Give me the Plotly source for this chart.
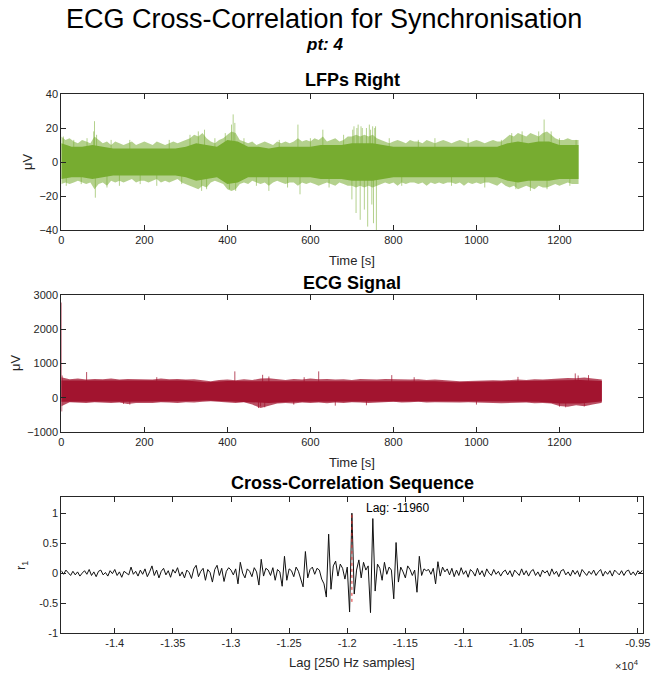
import numpy as np
import plotly.graph_objects as go

# ---------------- LFP (Right) data ----------------
# outer (light) envelope, every 10 s
lfp_outer_t = list(range(0, 1241, 10)) + [1246]
lfp_outer_hi = [15, 13, 14,
                12, 11, 13, 12, 11,
                15, 13,
                11, 12, 10, 12, 11, 10, 11, 12, 10, 11, 12, 11, 10, 12, 11, 10, 11, 12, 11, 12,
                13, 14, 16, 15, 17, 14,
                12, 11, 13, 14,
                16, 18, 17, 13,
                12, 11, 12, 10, 11, 12, 11, 10, 12, 11, 12, 11, 12,
                14, 12, 13, 12, 14, 13, 15, 12, 13, 14, 12, 13, 15,
                15, 16, 15, 16, 15, 16, 14,
                13, 12, 11, 12, 13, 12, 11, 13, 12, 12, 11, 13, 12, 11, 12, 13, 12, 11, 12, 13,
                12, 11, 12, 13, 12, 11, 12, 13, 12, 12,
                14, 16, 15, 17, 16, 15, 17, 16, 15, 17, 18, 16,
                14, 13, 13, 14, 13, 13,
                13]
lfp_outer_lo = [-13, -12, -13,
                -12, -11, -12, -13, -12,
                -16, -13,
                -12, -14, -11, -12, -11, -12, -11, -10, -12, -11, -11, -12, -11, -10, -12, -11,
                -12, -11, -10, -12,
                -13, -14, -15, -16, -14, -15,
                -12, -11, -12, -13,
                -16, -17, -16, -13,
                -12, -13, -11, -12, -13, -12, -14, -12, -11, -12, -13, -12, -12,
                -14, -12, -13, -12, -13, -14, -13, -12, -13, -14, -12, -13, -14,
                -14, -15, -14, -15, -14, -15, -14,
                -13, -12, -13, -12, -14, -12, -13, -12, -12, -13, -12, -14, -12, -13, -12, -13,
                -12, -12, -13, -12, -14, -12, -13, -12, -13, -12, -12, -13, -14, -12,
                -14, -15, -14, -16, -15, -14, -15, -16, -14, -15, -15, -14,
                -13, -14, -13, -12, -13, -13,
                -13]
# dense (solid) core, every 25 s
lfp_core_t = [0, 25, 50, 75, 100, 125, 150, 175, 200, 225, 250, 275, 300, 325, 350, 375,
              400, 425, 450, 475, 500, 525, 550, 575, 600, 625, 650, 675, 700, 725, 750, 775,
              800, 825, 850, 875, 900, 925, 950, 975, 1000, 1025, 1050, 1075, 1100, 1125,
              1150, 1175, 1200, 1225, 1246]
lfp_core_hi = [11, 9, 9, 10, 9, 8, 8, 8, 8, 8, 8, 8, 9, 11, 10, 9, 13, 12, 9, 9, 8, 9, 9, 9,
               9, 10, 10, 10, 11, 11, 11, 10, 9, 9, 9, 9, 9, 9, 9, 9, 9, 9, 9, 11, 12, 11,
               12, 12, 10, 10, 10]
lfp_core_lo = [-10, -9, -9, -10, -9, -8, -8, -8, -8, -8, -8, -8, -9, -11, -10, -9, -13, -12,
               -9, -9, -9, -9, -9, -9, -9, -10, -10, -10, -11, -11, -11, -10, -9, -9, -9,
               -9, -9, -9, -9, -9, -9, -9, -9, -11, -12, -11, -11, -11, -10, -10, -10]
# isolated spikes
lfp_spike_t = [5, 12, 30, 48, 62, 78, 80, 82, 85, 110, 120, 140, 165, 190, 230, 260, 290,
               310, 330, 338, 345, 350, 370, 395, 405, 410, 414, 418, 420, 440, 470, 500,
               525, 545, 570, 575, 600, 630, 645, 680,
               700, 702, 705, 710, 712, 715, 720, 722, 725, 730, 735, 738, 742, 745, 748,
               750, 752, 755, 757, 759,
               790, 820, 860, 900, 940, 980, 1020, 1060,
               1085, 1095, 1110, 1130, 1150, 1163, 1170, 1180, 1200, 1225, 1240]
lfp_spike_v = [15, -14, 13, -13, 14, 18, 24, -21, 16, -15, 13, -14, 13, -13, -14, 13, -13,
               16, 18, -17, 19, -16, 14, 17, -16, 22, 28, 23, -17, 14, -14, -17,
               13, -15, 22, -19, 14, 19, -15, 16,
               -22, 19, 21, -30, 20, 22, -34, 21, 20, -28, 20, -38, 22, 19, -25,
               21, -36, 20, 21, -40,
               14, -14, 13, 14, -14, 14, -15, 13,
               17, -16, 18, -17, 18, 25, -16, 18, 14, -14, 13]

# ---------------- ECG data ----------------
ecg_outer_t = list(range(0, 1301, 20)) + [1302]
ecg_outer_hi = [600, 540, 560, 530, 550, 540, 560, 530, 550, 540,
                550, 530, 560, 540, 550, 530, 540, 520, 480, 520,
                530, 510, 540, 520, 560, 570, 540, 520, 550, 530,
                560, 540, 550, 530, 540, 520, 550, 540, 530, 550,
                540, 550, 530, 540, 520, 530, 510, 490, 480, 490,
                500, 490, 510, 500, 520, 530, 520, 540, 530, 550,
                560, 580, 570, 590, 560, 540,
                530]
ecg_outer_lo = [-250, -130, -140, -150, -130, -140, -150, -140, -180, -150,
                -140, -150, -130, -140, -150, -130, -140, -120, -100, -130,
                -140, -150, -130, -200, -300, -240, -170, -150, -170, -140,
                -150, -140, -160, -140, -150, -130, -140, -150, -160, -130,
                -120, -140, -130, -120, -140, -130, -120, -130, -140, -130,
                -150, -140, -150, -160, -140, -150, -140, -160, -150, -170,
                -240, -260, -220, -250, -200, -150,
                -140]
ecg_core_t = [0, 50, 100, 150, 200, 250, 300, 350, 400, 450, 500, 550, 600, 650, 700, 750,
              800, 850, 900, 950, 1000, 1050, 1100, 1150, 1200, 1250, 1300, 1302]
ecg_core_hi = [500, 500, 500, 500, 500, 500, 500, 450, 490, 480, 480, 490, 500, 500, 490,
               500, 500, 490, 480, 450, 460, 470, 480, 490, 500, 520, 490, 490]
ecg_core_lo = [-120, -110, -110, -120, -110, -110, -100, -80, -100, -120, -150, -120, -120,
               -120, -100, -110, -100, -100, -100, -100, -110, -110, -110, -120, -170, -170,
               -110, -110]
ecg_spike_t = [0, 1, 2, 61, 150, 165, 230, 418, 475, 480, 485, 490, 500, 560, 585, 620,
               660, 735, 796, 850, 1000, 1100, 1200, 1215, 1238, 1245, 1260, 1270]
ecg_spike_v = [2780, -400, 650, 750, -180, -200, 600, 770, -300, -250, 670, -280, 620, -200,
               600, 770, -230, -220, 660, 600, -200, 610, -260, -280, 710, 650, -250, 660]

# ---------------- Cross-correlation sequence ----------------
lag_start = -14460
lag_step = 20
xc_r = [0.04, -0.02, 0.05, 0.01, -0.04, 0.03, -0.03, 0.02, -0.05, 0.00,
        0.04, -0.02, 0.06, -0.04, 0.02, -0.06, 0.03, 0.05, -0.03, 0.01,
        -0.05, 0.04, -0.01, 0.06, -0.04, 0.02, -0.07, 0.03, 0.00, -0.03,
        0.10, -0.02, 0.03, -0.05, 0.05, -0.02, 0.07, -0.06, 0.02, 0.12,
        -0.04, 0.05, -0.08, 0.03, 0.08, -0.03, 0.04, -0.07, 0.06, 0.00,
        0.09, -0.05, 0.02, -0.08, 0.05, 0.01, -0.09, 0.07, 0.13, -0.06,
        0.03, 0.08, -0.12, 0.06, 0.01, -0.15, 0.06, 0.13, -0.04, 0.08,
        -0.14, 0.03, 0.09, 0.05, -0.03, 0.07, -0.18, 0.18, 0.00, -0.08,
        0.07, 0.03, -0.06, 0.09, 0.02, -0.20, 0.23, -0.05, 0.08, 0.05,
        -0.04, 0.09, -0.12, 0.06, 0.02, -0.22, 0.28, -0.12, 0.07, 0.04,
        -0.06, 0.10, 0.03, -0.09, -0.23, 0.36, -0.08, 0.06, 0.10, -0.02,
        0.08, 0.05, -0.10, -0.18, -0.40, 0.65, -0.27, 0.12, 0.20, -0.05,
        0.15, 0.08, -0.10, 0.10, -0.65, 1.00, -0.35, 0.05, 0.22, -0.08,
        0.18, 0.05, 0.12, -0.66, 0.91, -0.30, 0.15, 0.08, -0.12, 0.18,
        -0.02, 0.10, 0.05, -0.43, 0.51, -0.15, 0.10, 0.02, -0.08, 0.12,
        0.06, -0.04, 0.05, -0.32, 0.28, -0.04, 0.07, 0.04, 0.06, -0.02,
        0.08, -0.18, 0.19, -0.05, 0.10, 0.02, 0.07, -0.03, 0.08, -0.06,
        0.05, -0.04, 0.09, -0.02, 0.04, -0.07, 0.06, 0.02, -0.05, 0.08,
        -0.03, 0.04, -0.06, 0.07, 0.00, -0.04, 0.06, -0.02, 0.03, -0.05,
        0.02, 0.05, -0.03, 0.04, -0.06, 0.05, 0.01, -0.04, 0.07, -0.03,
        0.04, -0.05, 0.03, 0.06, -0.04, 0.02, -0.06, 0.05, 0.00, 0.04,
        -0.05, 0.07, -0.02, 0.03, -0.06, 0.04, 0.06, -0.03, 0.02, -0.05,
        0.05, -0.02, 0.04, -0.06, 0.06, 0.01, -0.04, 0.03, -0.02, 0.05,
        -0.04, 0.02, 0.06, -0.05, 0.03, -0.02, 0.04, -0.05, 0.05, 0.01,
        -0.03, 0.04, -0.04, 0.03, 0.05, -0.03, 0.02, -0.04, 0.04, 0.00,
        0.05]
peak_lag = -11960
peak_line_r = [-0.48, 1.0]

time_ticks = [0, 200, 400, 600, 800, 1000, 1200, 1400]
lag_tickvals = [-14000, -13500, -13000, -12500, -12000, -11500, -11000, -10500, -10000, -9500]
lag_ticktext = ['-1.4', '-1.35', '-1.3', '-1.25', '-1.2', '-1.15', '-1.1', '-1.05', '-1', '-0.95']

# ---------------- styling ----------------
W, H = 653, 679
FONT = "Liberation Sans"
AX = '#262626'
GREEN = '#77AC30'
GREEN_L = 'rgba(119,172,48,0.55)'
RED = '#A2142F'
RED_L = 'rgba(162,20,47,0.75)'

def px_x(p):
    return p / W

def px_y(p):
    return 1 - p / H

def band(t, hi, lo):
    return list(t) + list(t)[::-1], list(hi) + list(lo)[::-1]

def spikes(t, v):
    xs, ys = [], []
    for a, b in zip(t, v):
        xs += [a, a, None]
        ys += [0, b, None]
    return xs, ys

fig = go.Figure()

def add_signal(outer_t, outer_hi, outer_lo, core_t, core_hi, core_lo, sp_t, sp_v,
               col, col_l, xa, ya):
    bx, by = band(outer_t, outer_hi, outer_lo)
    fig.add_trace(go.Scatter(x=bx, y=by, fill='toself', fillcolor=col_l, line=dict(width=0),
                             mode='lines', hoverinfo='skip', xaxis=xa, yaxis=ya))
    sx, sy = spikes(sp_t, sp_v)
    fig.add_trace(go.Scatter(x=sx, y=sy, mode='lines', line=dict(color=col_l, width=1),
                             hoverinfo='skip', xaxis=xa, yaxis=ya))
    bx, by = band(core_t, core_hi, core_lo)
    fig.add_trace(go.Scatter(x=bx, y=by, fill='toself', fillcolor=col, line=dict(width=0),
                             mode='lines', hoverinfo='skip', xaxis=xa, yaxis=ya))

add_signal(lfp_outer_t, lfp_outer_hi, lfp_outer_lo, lfp_core_t, lfp_core_hi, lfp_core_lo,
           lfp_spike_t, lfp_spike_v, GREEN, GREEN_L, 'x', 'y')
add_signal(ecg_outer_t, ecg_outer_hi, ecg_outer_lo, ecg_core_t, ecg_core_hi, ecg_core_lo,
           ecg_spike_t, ecg_spike_v, RED, RED_L, 'x2', 'y2')

# Cross-correlation
lags = lag_start + lag_step * np.arange(len(xc_r))
fig.add_trace(go.Scatter(x=lags, y=xc_r, mode='lines', line=dict(color='#111111', width=1),
                         xaxis='x3', yaxis='y3'))
fig.add_trace(go.Scatter(x=[peak_lag, peak_lag], y=peak_line_r, mode='lines',
                         line=dict(color='#E03030', width=1, dash='dot'),
                         xaxis='x3', yaxis='y3'))

xdom = [px_x(61.3), px_x(642.5)]
common = dict(showline=True, linecolor=AX, linewidth=1, mirror='ticks', ticks='inside',
              ticklen=5, tickcolor=AX, showgrid=False, zeroline=False, automargin=False,
              tickfont=dict(family=FONT, size=11, color=AX))

fig.update_layout(
    width=W, height=H, margin=dict(l=0, r=0, t=0, b=0, autoexpand=False),
    paper_bgcolor='white', plot_bgcolor='white', showlegend=False,
    font=dict(family=FONT, color='black'),
    xaxis=dict(domain=xdom, range=[0, 1400], tickvals=time_ticks, anchor='y', **common),
    yaxis=dict(domain=[px_y(230), px_y(94)], range=[-40, 40], tickvals=[-40, -20, 0, 20, 40],
               anchor='x', **common),
    xaxis2=dict(domain=xdom, range=[0, 1400], tickvals=time_ticks, anchor='y2', **common),
    yaxis2=dict(domain=[px_y(432), px_y(295)], range=[-1000, 3000],
                tickvals=[-1000, 0, 1000, 2000, 3000], anchor='x2', **common),
    xaxis3=dict(domain=xdom, range=[-14460, -9460], tickvals=lag_tickvals,
                ticktext=lag_ticktext, anchor='y3', **common),
    yaxis3=dict(domain=[px_y(633), px_y(497)], range=[-1, 1.27],
                tickvals=[-1, -0.5, 0, 0.5, 1], ticktext=['-1', '-0.5', '0', '0.5', '1'],
                anchor='x3', **common),
)

ann = []
def add_text(text, x, y, size, bold=False, italic=False, angle=0, xanchor='center', color='black'):
    t = text
    if bold:
        t = '<b>' + t + '</b>'
    if italic:
        t = '<i>' + t + '</i>'
    ann.append(dict(text=t, x=px_x(x), y=px_y(y), xref='paper', yref='paper', showarrow=False,
                    font=dict(family=FONT, size=size, color=color), xanchor=xanchor,
                    yanchor='middle', textangle=angle))

add_text('ECG Cross-Correlation for Synchronisation', 324, 19, 27)
add_text('pt: 4', 324, 45, 17, bold=True, italic=True)
add_text('LFPs Right', 352, 80, 18, bold=True)
add_text('ECG Signal', 352, 283, 18, bold=True)
add_text('Cross-Correlation Sequence', 352, 483, 18, bold=True)
add_text('Time [s]', 352, 260, 13, color=AX)
add_text('Time [s]', 352, 462, 13, color=AX)
add_text('Lag [250 Hz samples]', 352, 662, 13, color=AX)
add_text('μV', 27, 162, 13, angle=-90, color=AX)
add_text('μV', 15, 363, 13, angle=-90, color=AX)
add_text('r<sub>1</sub>', 21, 566, 13, angle=-90, color=AX)
add_text('×10<sup>4</sup>', 627, 665, 11, color=AX)

ann.append(dict(text='Lag: -11960', x=peak_lag + 100, y=1.08, xref='x3', yref='y3',
                showarrow=False, xanchor='left', yanchor='middle',
                font=dict(family=FONT, size=12, color='black')))

fig.update_layout(annotations=ann)
fig.write_html("out.html", config={'displayModeBar': False},
               post_script="document.body.style.margin='0px';document.body.style.overflow='hidden';")
